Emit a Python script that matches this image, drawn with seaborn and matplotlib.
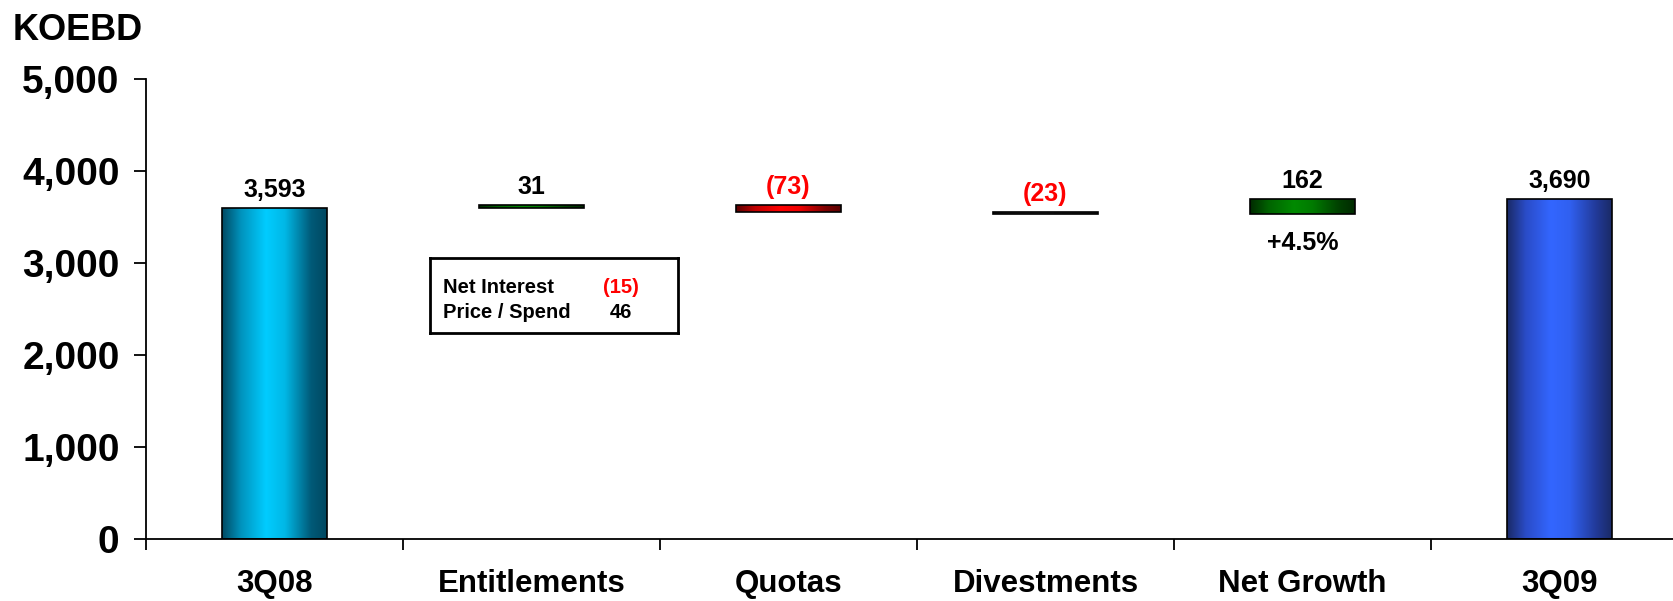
import numpy as np
import pandas as pd
import matplotlib
matplotlib.use("Agg")
import matplotlib.pyplot as plt
import seaborn as sns
from matplotlib.colors import LinearSegmentedColormap

# Données (KOEBD)
categories = ["3Q08", "Entitlements", "Quotas", "Divestments", "Net Growth", "3Q09"]
changes = [3593, 31, -73, -23, 162, 3690]
is_total = [True, False, False, False, False, True]
box_labels = ["Net Interest", "Price / Spend"]
box_values = [-15, 46]
growth_pct = "+4.5%"
y_ticks = [0, 1000, 2000, 3000, 4000, 5000]

# Couleurs en dégradé (bord, centre, bord)
bar_colors = [
    ["#004a63", "#0093bd", "#00ccff", "#00b8e6", "#005a78", "#004860"],
    ["#002a00", "#006400", "#008a00", "#007a00", "#004000", "#002a00"],
    ["#5a0000", "#c00000", "#ff0000", "#f00000", "#800000", "#5a0000"],
    ["#202020", "#404040", "#505050", "#404040", "#303030", "#202020"],
    ["#002a00", "#006400", "#008a00", "#007a00", "#004000", "#002a00"],
    ["#1a2a66", "#2a4cc8", "#3366ff", "#3060f0", "#223a99", "#1a2a66"],
]

# Calcul de la cascade
bottoms, heights, running = [], [], 0
for val, tot in zip(changes, is_total):
    if tot:
        bottoms.append(0)
        heights.append(val)
        running = val
    else:
        new = running + val
        bottoms.append(min(running, new))
        heights.append(abs(val))
        running = new

df = pd.DataFrame({"cat": categories, "height": heights, "bottom": bottoms})

sns.set_style("white")
plt.rcParams["font.family"] = ["Liberation Sans", "DejaVu Sans"]
plt.rcParams["font.weight"] = "bold"
plt.rcParams["text.color"] = "black"
plt.rcParams["xtick.color"] = "black"
plt.rcParams["ytick.color"] = "black"

fig = plt.figure(figsize=(16.73, 6.01), dpi=100)
ax = fig.add_axes([146 / 1673, 62.3 / 601, 1542 / 1673, 460 / 601])

sns.barplot(data=df, x="cat", y="height", order=categories, width=0.405,
            color="white", edgecolor="black", linewidth=1.2, ax=ax, zorder=3)

ax.set_xlim(-0.5, 5.5)
ax.set_ylim(0, 5000)

for i, patch in enumerate(ax.patches):
    patch.set_y(bottoms[i])
    patch.set_height(heights[i])
    patch.set_facecolor("none")
    x0 = patch.get_x()
    x1 = x0 + patch.get_width()
    cmap = LinearSegmentedColormap.from_list(f"g{i}", list(zip([0, 0.18, 0.42, 0.6, 0.85, 1], bar_colors[i])))
    grad = np.linspace(0, 1, 256).reshape(1, -1)
    im = ax.imshow(grad, extent=[x0, x1, bottoms[i], bottoms[i] + heights[i]],
                   aspect="auto", cmap=cmap, zorder=2, interpolation="bicubic")
    im.set_clip_path(patch)

ax.set_xlim(-0.5, 5.5)
ax.set_ylim(0, 5000)

# Étiquettes de valeurs
for i, (val, tot) in enumerate(zip(changes, is_total)):
    top = bottoms[i] + heights[i]
    if tot:
        txt, col = f"{val:,}", "black"
    elif val < 0:
        txt, col = f"({abs(val)})", "red"
    else:
        txt, col = f"{val}", "black"
    ax.annotate(txt, (i, top), xytext=(0, 8), textcoords="offset points",
                ha="center", va="baseline", fontsize=18, fontweight="bold", color=col)

ax.annotate(growth_pct, (4, bottoms[4]), xytext=(0, -26), textcoords="offset points",
            ha="center", va="baseline", fontsize=18, fontweight="bold")

# Encadré
box_ax = fig.add_axes([430 / 1673, (601 - 333) / 601, 248 / 1673, 75 / 601])
box_ax.set_xticks([])
box_ax.set_yticks([])
for s in box_ax.spines.values():
    s.set_linewidth(2)
    s.set_color("black")
box_ax.set_xlim(0, 248)
box_ax.set_ylim(75, 0)
for j, (lab, v) in enumerate(zip(box_labels, box_values)):
    yb = 35 + j * 25
    box_ax.text(13, yb, lab, fontsize=14.5, fontweight="bold", va="baseline")
    if v < 0:
        box_ax.text(173, yb, f"({abs(v)})", fontsize=14.5, fontweight="bold", color="red", va="baseline")
    else:
        box_ax.text(180, yb, f"{v}", fontsize=14.5, fontweight="bold", va="baseline")

# Axes
sns.despine(ax=ax)
for s in ["left", "bottom"]:
    ax.spines[s].set_linewidth(1.3)
    ax.spines[s].set_color("black")
ax.set_yticks(y_ticks)
ax.set_yticklabels([f"{t:,}" for t in y_ticks], fontsize=28, fontweight="bold")
ax.tick_params(axis="y", direction="out", length=9, width=1.3, pad=10, left=True)
ax.set_xticks(range(len(categories)))
ax.set_xticklabels(categories, fontsize=22.5, fontweight="bold")
ax.set_xticks(np.arange(-0.5, 6, 1), minor=True)
ax.tick_params(axis="x", which="major", length=0, pad=22)
ax.tick_params(axis="x", which="minor", direction="out", length=8, width=1.3, bottom=True)
ax.set_xlabel("")
ax.set_ylabel("")

fig.text(13 / 1673, 1 - 40 / 601, "KOEBD", fontsize=26, fontweight="bold", va="baseline")

fig.savefig("out.png", dpi=100)
